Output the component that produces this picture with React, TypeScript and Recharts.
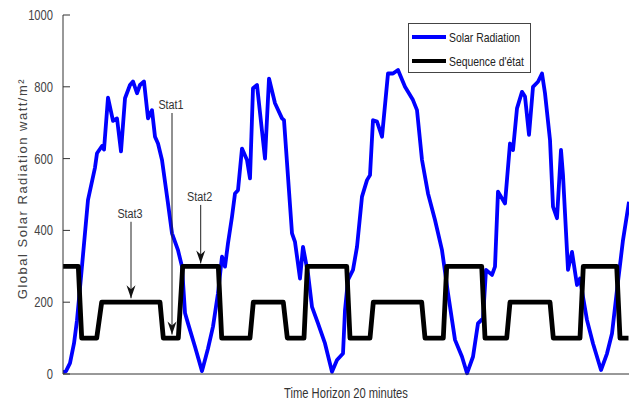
import React from "react";
import {
  LineChart,
  Line,
  XAxis,
  YAxis,
  Legend,
  ReferenceLine,
  ReferenceDot,
} from "recharts";

// Time steps (20-minute horizon samples) and global solar radiation (W/m²)
const radiationTime = [
  0, 3, 7, 11, 14, 18, 25, 32, 34, 39, 41, 45, 50, 54, 58, 62, 67, 70, 74, 77, 81, 85, 89, 92, 95, 99,
  105, 109, 115, 119, 122, 125, 132, 139, 145, 150, 155, 159, 162, 165, 169, 172, 175, 179, 184, 187,
  190, 194, 202, 206, 212, 219, 221, 229, 232, 237, 240, 245, 249, 255, 262, 269, 274, 280, 282, 285,
  290, 294, 299, 304, 307, 310, 314, 319, 325, 330, 335, 342, 350, 354, 359, 365, 372, 379, 385, 392,
  399, 404, 410, 415, 420, 423, 429, 432, 435, 442, 447, 450, 454, 459, 462, 466, 470, 475, 479, 482,
  487, 490, 494, 498, 500, 505, 509, 514, 517, 520, 524, 530, 538, 544, 549, 554, 560, 566,
];
const radiationValues = [
  5, 8, 30, 85, 150, 270, 485, 575, 615, 635, 625, 770, 705, 712, 620, 768, 805, 815, 782, 805, 815,
  712, 735, 661, 642, 596, 475, 392, 345, 299, 170, 141, 76, 8, 71, 132, 225, 327, 299, 364, 438, 503,
  512, 628, 596, 545, 796, 805, 600, 823, 754, 712, 707, 392, 368, 266, 354, 280, 187, 141, 85, 6, 39,
  57, 178, 262, 290, 354, 494, 540, 554, 707, 703, 661, 837, 837, 847, 800, 763, 735, 596, 503, 429,
  345, 225, 95, 48, 2, 48, 141, 155, 290, 276, 299, 508, 475, 642, 624, 740, 786, 773, 666, 800, 814,
  837, 782, 652, 466, 434, 624, 554, 290, 340, 248, 266, 215, 150, 85, 11, 57, 113, 234, 373, 480,
];

// State sequence (Sequence d'état): levels 100 / 200 / 300
const stateTime = [
  0, 15.3, 18.7, 33.7, 38.7, 97, 100.3, 115.3, 119.7, 155.3, 158.7, 187, 190.3, 220.3, 224.3, 241,
  244.3, 283.7, 287, 307, 310.3, 358.7, 362, 380.3, 383.7, 418.7, 422, 443.7, 447, 487, 490.3, 517,
  520.3, 553.7, 557, 565.5,
];
const stateValues = [
  300, 300, 100, 100, 200, 200, 100, 100, 300, 300, 100, 100, 200, 200, 100, 100, 300, 300, 100, 100,
  200, 200, 100, 100, 300, 300, 100, 100, 200, 200, 100, 100, 300, 300, 100, 100,
];

const yTicks = [0, 200, 400, 600, 800, 1000];

// Annotations: label, time, arrow start value, arrow tip value
const annLabels = ["Stat1", "Stat2", "Stat3"];
const annTime = [109, 137.7, 68];
const annFrom = [727, 471, 424];
const annTo = [110, 308, 211];

const radiationData = radiationTime.map((t, i) => ({ t, v: radiationValues[i] }));
const stateData = stateTime.map((t, i) => ({ t, v: stateValues[i] }));

const SANS = '"Liberation Sans", Arial, sans-serif';
const SQ = 0.8; // horizontal condensing of the narrow labels

const NarrowText = ({ x, y, anchor, size, fill, children }: any) => (
  <text
    transform={`translate(${x},${y}) scale(${SQ},1)`}
    x={0}
    y={0}
    textAnchor={anchor}
    fontFamily={SANS}
    fontSize={size}
    fill={fill}
  >
    {children}
  </text>
);

const YTick = (props: any) => {
  const { x, y, payload } = props;
  return (
    <g>
      <line x1={x + 10} x2={x + 17} y1={y} y2={y} stroke="#333" strokeWidth={1} />
      <NarrowText x={x} y={y + 5} anchor="end" size={14} fill="#444">
        {payload.value}
      </NarrowText>
    </g>
  );
};

const YLabel = (props: any) => {
  const vb = props.viewBox || { x: 0, y: 15, width: 63, height: 359 };
  const cx = 22;
  const cy = vb.y + vb.height / 2 - 6;
  return (
    <text
      x={cx}
      y={cy}
      transform={`rotate(-90, ${cx}, ${cy})`}
      textAnchor="middle"
      dominantBaseline="central"
      fontFamily={SANS}
      fontSize={13}
      letterSpacing={1.5}
      fill="#444"
    >
      Global Solar Radiation watt/m²
    </text>
  );
};

const XLabel = (props: any) => {
  const vb = props.viewBox || { x: 63, y: 374, width: 566, height: 31 };
  return (
    <NarrowText x={vb.x + vb.width / 2} y={398} anchor="middle" size={14} fill="#333">
      Time Horizon 20 minutes
    </NarrowText>
  );
};

const LegendBox = () => (
  <div
    style={{
      width: 121,
      height: 48,
      border: "1.5px solid #444",
      background: "#fff",
      boxSizing: "content-box",
      position: "relative",
      fontFamily: SANS,
      fontSize: 13,
      color: "#222",
    }}
  >
    {[
      { name: "Solar Radiation", color: "#0000ff", top: 13 },
      { name: "Sequence d'état", color: "#000", top: 37 },
    ].map((e) => (
      <div key={e.name} style={{ position: "absolute", left: 3, top: e.top - 8, height: 16, display: "flex", alignItems: "center" }}>
        <div style={{ width: 34, height: 4, background: e.color }} />
        <span
          style={{
            marginLeft: 3,
            whiteSpace: "nowrap",
            display: "inline-block",
            transform: `scaleX(${SQ})`,
            transformOrigin: "left center",
          }}
        >
          {e.name}
        </span>
      </div>
    ))}
  </div>
);

const ArrowHead = (p: any) => {
  const { cx, cy } = p;
  return (
    <polygon
      points={`${cx},${cy} ${cx - 4.5},${cy - 13} ${cx},${cy - 9} ${cx + 4.5},${cy - 13}`}
      fill="#111"
    />
  );
};

const makeLabel = (label: string) => (p: any) => {
  const { cx, cy } = p;
  return (
    <NarrowText x={cx - 1} y={cy - 4} anchor="middle" size={13.5} fill="#333">
      {label}
    </NarrowText>
  );
};

export default function App() {
  return (
    <div style={{ position: "absolute", left: 0, top: 0 }}>
      <LineChart width={635} height={405} margin={{ top: 15, right: 6, bottom: 0, left: 0 }}>
        <XAxis
          type="number"
          dataKey="t"
          domain={[0, 566]}
          tick={false}
          tickLine={false}
          height={31}
          axisLine={{ stroke: "#333" }}
          allowDataOverflow
          label={<XLabel />}
        />
        <YAxis
          type="number"
          domain={[0, 1000]}
          ticks={yTicks}
          width={63}
          tickSize={0}
          tickMargin={10}
          tickLine={false}
          axisLine={{ stroke: "#333" }}
          tick={<YTick />}
          label={<YLabel />}
        />
        <Legend
          verticalAlign="middle"
          align="center"
          layout="horizontal"
          content={<LegendBox />}
          wrapperStyle={{ left: 408, top: 23, width: 124, height: 51 }}
        />
        <Line
          data={radiationData}
          dataKey="v"
          name="Solar Radiation"
          stroke="#0000ff"
          strokeWidth={3.8}
          dot={false}
          strokeLinejoin="round"
          isAnimationActive={false}
        />
        <Line
          data={stateData}
          dataKey="v"
          name="Sequence d'état"
          stroke="#000"
          strokeWidth={4.8}
          dot={false}
          strokeLinejoin="round"
          isAnimationActive={false}
        />
        {annLabels.map((l, i) => (
          <ReferenceLine
            key={"l" + l}
            segment={[
              { x: annTime[i], y: annFrom[i] },
              { x: annTime[i], y: annTo[i] },
            ]}
            stroke="#222"
            strokeWidth={1}
          />
        ))}
        {annLabels.map((l, i) => (
          <ReferenceDot key={"a" + l} x={annTime[i]} y={annTo[i]} r={1} shape={ArrowHead} />
        ))}
        {annLabels.map((l, i) => (
          <ReferenceDot key={"t" + l} x={annTime[i]} y={annFrom[i]} r={1} shape={makeLabel(l)} />
        ))}
      </LineChart>
    </div>
  );
}
